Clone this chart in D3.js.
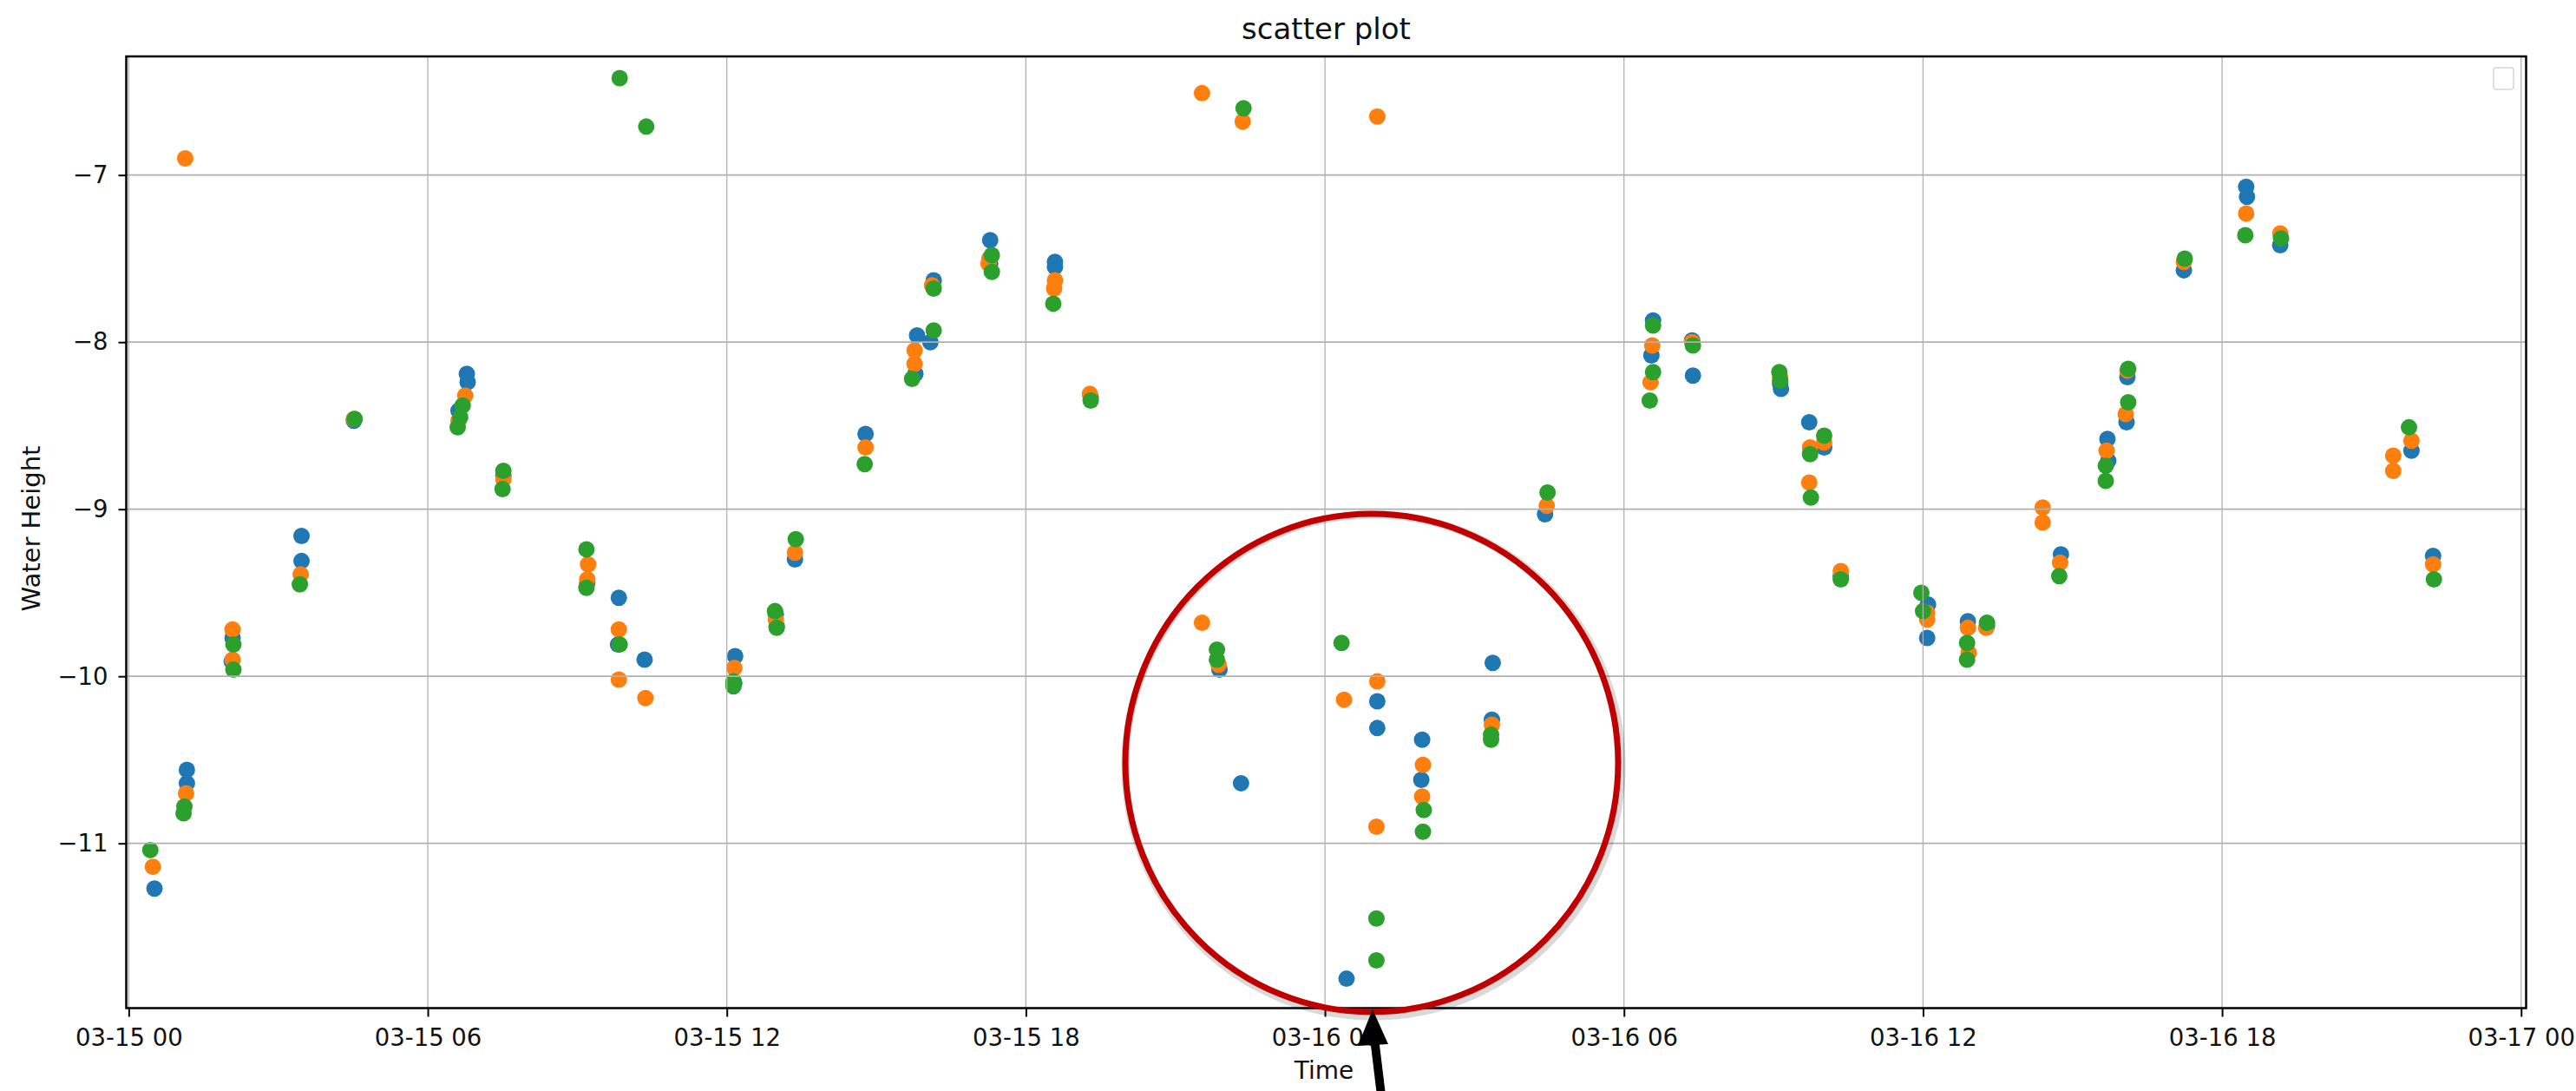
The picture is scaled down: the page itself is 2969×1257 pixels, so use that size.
<!DOCTYPE html>
<html>
<head>
<meta charset="utf-8">
<script src="https://cdn.jsdelivr.net/npm/d3@7"></script>
<style>
  body { margin: 0; background: #fff; }
  svg { display: block; font-family: "DejaVu Sans", sans-serif; }
</style>
</head>
<body>
<svg id="chart" width="2969" height="1257"></svg>
<script>
// three sensor series, [time, water height]
const seriesBlue = [
  ["2019-03-15 00:31", -11.27], ["2019-03-15 01:10", -10.56], ["2019-03-15 01:10", -10.64],
  ["2019-03-15 02:05", -9.77], ["2019-03-15 02:04", -9.91], ["2019-03-15 03:28", -9.16],
  ["2019-03-15 03:28", -9.31], ["2019-03-15 04:31", -8.47], ["2019-03-15 06:47", -8.19],
  ["2019-03-15 06:48", -8.24], ["2019-03-15 06:37", -8.41], ["2019-03-15 07:31", -8.80],
  ["2019-03-15 09:12", -9.44], ["2019-03-15 09:50", -9.53], ["2019-03-15 09:49", -9.81],
  ["2019-03-15 10:21", -9.90], ["2019-03-15 12:10", -9.88], ["2019-03-15 12:09", -10.04],
  ["2019-03-15 12:59", -9.63], ["2019-03-15 13:00", -9.70], ["2019-03-15 13:22", -9.30],
  ["2019-03-15 14:47", -8.55], ["2019-03-15 15:49", -7.96], ["2019-03-15 15:47", -8.19],
  ["2019-03-15 16:09", -7.63], ["2019-03-15 16:05", -8.00], ["2019-03-15 17:17", -7.39],
  ["2019-03-15 17:17", -7.53], ["2019-03-15 18:35", -7.52], ["2019-03-15 18:35", -7.55],
  ["2019-03-15 19:18", -8.33], ["2019-03-15 21:53", -9.96], ["2019-03-15 22:19", -10.64],
  ["2019-03-16 00:26", -11.81], ["2019-03-16 01:03", -10.15], ["2019-03-16 01:03", -10.31],
  ["2019-03-16 01:57", -10.38], ["2019-03-16 01:56", -10.62], ["2019-03-16 03:22", -9.92],
  ["2019-03-16 03:21", -10.26], ["2019-03-16 04:25", -9.03], ["2019-03-16 06:35", -7.87],
  ["2019-03-16 06:33", -8.08], ["2019-03-16 07:22", -7.99], ["2019-03-16 07:23", -8.20],
  ["2019-03-16 09:08", -8.25], ["2019-03-16 09:09", -8.28], ["2019-03-16 09:43", -8.48],
  ["2019-03-16 10:01", -8.63], ["2019-03-16 10:21", -9.40], ["2019-03-16 12:06", -9.57],
  ["2019-03-16 12:05", -9.77], ["2019-03-16 12:54", -9.67], ["2019-03-16 13:17", -9.70],
  ["2019-03-16 14:46", -9.27], ["2019-03-16 15:42", -8.58], ["2019-03-16 15:43", -8.71],
  ["2019-03-16 16:06", -8.21], ["2019-03-16 16:05", -8.48], ["2019-03-16 17:14", -7.57],
  ["2019-03-16 18:29", -7.07], ["2019-03-16 18:30", -7.13], ["2019-03-16 19:10", -7.42],
  ["2019-03-16 21:48", -8.65], ["2019-03-16 22:14", -9.28]
];
const seriesOrange = [
  ["2019-03-15 00:29", -11.14], ["2019-03-15 01:08", -6.90], ["2019-03-15 01:09", -10.70],
  ["2019-03-15 02:05", -9.72], ["2019-03-15 02:05", -9.90], ["2019-03-15 03:27", -9.39],
  ["2019-03-15 04:31", -8.46], ["2019-03-15 06:45", -8.32], ["2019-03-15 06:37", -8.47],
  ["2019-03-15 07:31", -8.82], ["2019-03-15 09:13", -9.33], ["2019-03-15 09:12", -9.42],
  ["2019-03-15 09:50", -9.72], ["2019-03-15 09:50", -10.02], ["2019-03-15 10:22", -10.13],
  ["2019-03-15 12:09", -9.95], ["2019-03-15 12:59", -9.66], ["2019-03-15 13:22", -9.26],
  ["2019-03-15 14:47", -8.63], ["2019-03-15 15:46", -8.05], ["2019-03-15 15:46", -8.13],
  ["2019-03-15 16:07", -7.66], ["2019-03-15 17:16", -7.50], ["2019-03-15 17:15", -7.53],
  ["2019-03-15 18:35", -7.63], ["2019-03-15 18:34", -7.68], ["2019-03-15 19:17", -8.31],
  ["2019-03-15 21:32", -6.51], ["2019-03-15 21:32", -9.68], ["2019-03-15 21:52", -9.93],
  ["2019-03-15 22:21", -6.68], ["2019-03-16 00:23", -10.14], ["2019-03-16 01:03", -6.65],
  ["2019-03-16 01:03", -10.03], ["2019-03-16 01:02", -10.90], ["2019-03-16 01:58", -10.53],
  ["2019-03-16 01:57", -10.72], ["2019-03-16 03:21", -10.29], ["2019-03-16 04:27", -8.98],
  ["2019-03-16 06:34", -8.02], ["2019-03-16 06:32", -8.24], ["2019-03-16 07:22", -8.00],
  ["2019-03-16 09:08", -8.21], ["2019-03-16 10:01", -8.60], ["2019-03-16 09:44", -8.63],
  ["2019-03-16 09:43", -8.84], ["2019-03-16 10:21", -9.37], ["2019-03-16 12:05", -9.62],
  ["2019-03-16 12:05", -9.66], ["2019-03-16 12:54", -9.71], ["2019-03-16 12:55", -9.86],
  ["2019-03-16 13:16", -9.71], ["2019-03-16 14:24", -8.99], ["2019-03-16 14:24", -9.08],
  ["2019-03-16 14:45", -9.32], ["2019-03-16 15:41", -8.65], ["2019-03-16 16:06", -8.17],
  ["2019-03-16 16:04", -8.43], ["2019-03-16 17:14", -7.52], ["2019-03-16 18:29", -7.23],
  ["2019-03-16 19:10", -7.35], ["2019-03-16 21:48", -8.59], ["2019-03-16 21:26", -8.68],
  ["2019-03-16 21:26", -8.77], ["2019-03-16 22:14", -9.33]
];
const seriesGreen = [
  ["2019-03-15 00:26", -11.04], ["2019-03-15 01:07", -10.78], ["2019-03-15 01:06", -10.82],
  ["2019-03-15 02:06", -9.81], ["2019-03-15 02:06", -9.96], ["2019-03-15 03:26", -9.45],
  ["2019-03-15 04:32", -8.46], ["2019-03-15 06:42", -8.38], ["2019-03-15 06:39", -8.45],
  ["2019-03-15 06:36", -8.51], ["2019-03-15 07:31", -8.77], ["2019-03-15 07:30", -8.88],
  ["2019-03-15 09:11", -9.24], ["2019-03-15 09:11", -9.47], ["2019-03-15 09:51", -6.42],
  ["2019-03-15 09:51", -9.81], ["2019-03-15 10:23", -6.71], ["2019-03-15 12:08", -10.03],
  ["2019-03-15 12:08", -10.06], ["2019-03-15 12:58", -9.61], ["2019-03-15 13:00", -9.71],
  ["2019-03-15 13:23", -9.18], ["2019-03-15 14:46", -8.73], ["2019-03-15 15:43", -8.22],
  ["2019-03-15 16:09", -7.68], ["2019-03-15 16:09", -7.93], ["2019-03-15 17:19", -7.48],
  ["2019-03-15 17:19", -7.58], ["2019-03-15 18:33", -7.77], ["2019-03-15 19:18", -8.35],
  ["2019-03-15 21:50", -9.84], ["2019-03-15 21:50", -9.90], ["2019-03-15 22:22", -6.60],
  ["2019-03-16 00:20", -9.80], ["2019-03-16 01:02", -11.45], ["2019-03-16 01:02", -11.70],
  ["2019-03-16 01:59", -10.80], ["2019-03-16 01:58", -10.93], ["2019-03-16 03:20", -10.35],
  ["2019-03-16 03:20", -10.38], ["2019-03-16 04:28", -8.90], ["2019-03-16 06:35", -7.90],
  ["2019-03-16 06:35", -8.18], ["2019-03-16 06:31", -8.35], ["2019-03-16 07:23", -8.02],
  ["2019-03-16 09:07", -8.18], ["2019-03-16 09:08", -8.23], ["2019-03-16 10:01", -8.56],
  ["2019-03-16 09:44", -8.67], ["2019-03-16 09:45", -8.93], ["2019-03-16 10:21", -9.42],
  ["2019-03-16 11:58", -9.50], ["2019-03-16 12:00", -9.61], ["2019-03-16 12:53", -9.80],
  ["2019-03-16 12:53", -9.90], ["2019-03-16 13:17", -9.68], ["2019-03-16 14:44", -9.40],
  ["2019-03-16 15:40", -8.74], ["2019-03-16 15:40", -8.83], ["2019-03-16 16:07", -8.16],
  ["2019-03-16 16:07", -8.36], ["2019-03-16 17:15", -7.50], ["2019-03-16 18:28", -7.36],
  ["2019-03-16 19:11", -7.38], ["2019-03-16 21:45", -8.51], ["2019-03-16 22:15", -9.42]
];
const seriesColors = ["#1f77b4", "#ff7f0e", "#2ca02c"];
const yTicks = [-11, -10, -9, -8, -7];
const xRange = ["2019-03-14 23:57", "2019-03-17 00:06"];
const yRange = [-11.986, -6.29];

const parseTime = d3.utcParse("%Y-%m-%d %H:%M");
const margin = { left: 145.5, top: 65, right: 2911.5, bottom: 1161.5 };

const svg = d3.select("#chart");

const x = d3.scaleUtc()
    .domain(xRange.map(parseTime))
    .range([margin.left, margin.right]);
const y = d3.scaleLinear()
    .domain(yRange)
    .range([margin.bottom, margin.top]);

const xTicks = x.ticks(d3.utcHour.every(6));

// points, blue first so green lands on top like matplotlib
[seriesBlue, seriesOrange, seriesGreen].forEach((s, i) => {
    svg.append("g")
        .selectAll("circle")
        .data(s)
        .enter().append("circle")
        .attr("cx", d => x(parseTime(d[0])))
        .attr("cy", d => y(d[1]))
        .attr("r", 9.5)
        .attr("fill", seriesColors[i]);
});

// grid is drawn over the markers (matplotlib default zorder)
const grid = svg.append("g").attr("stroke", "#b0b0b0");
grid.selectAll("line.v")
    .data(xTicks)
    .enter().append("line")
    .attr("x1", d => x(d)).attr("x2", d => x(d))
    .attr("y1", margin.top).attr("y2", margin.bottom)
    .attr("stroke-width", 1.3);
grid.selectAll("line.h")
    .data(yTicks)
    .enter().append("line")
    .attr("y1", d => y(d)).attr("y2", d => y(d))
    .attr("x1", margin.left).attr("x2", margin.right)
    .attr("stroke-width", 1.8);

// axes
const xAxis = svg.append("g")
    .attr("transform", `translate(0,${margin.bottom})`)
    .call(d3.axisBottom(x)
        .tickValues(xTicks)
        .tickFormat(d3.utcFormat("%m-%d %H"))
        .tickSize(10)
        .tickPadding(14));
const yAxis = svg.append("g")
    .attr("transform", `translate(${margin.left},0)`)
    .call(d3.axisLeft(y)
        .tickValues(yTicks)
        .tickFormat(d3.format("d"))
        .tickSize(9)
        .tickPadding(12));
[xAxis, yAxis].forEach(a => {
    a.select(".domain").remove();
    a.selectAll("line").attr("stroke", "#000").attr("stroke-width", 2);
    a.selectAll("text")
        .attr("fill", "#111")
        .style("font-family", "'DejaVu Sans', sans-serif")
        .style("font-size", "27.5px");
});

// frame
svg.append("rect")
    .attr("x", margin.left).attr("y", margin.top)
    .attr("width", margin.right - margin.left)
    .attr("height", margin.bottom - margin.top)
    .attr("fill", "none")
    .attr("stroke", "#000")
    .attr("stroke-width", 2.5);

// empty legend box
svg.append("rect")
    .attr("x", 2874).attr("y", 78)
    .attr("width", 23).attr("height", 25)
    .attr("rx", 3)
    .attr("fill", "#fff")
    .attr("stroke", "#d6d6d6")
    .attr("stroke-width", 1.5);

// titles
svg.append("text")
    .attr("x", (margin.left + margin.right) / 2)
    .attr("y", 45)
    .attr("text-anchor", "middle")
    .attr("fill", "#111")
    .style("font-size", "34px")
    .text("scatter plot");
svg.append("text")
    .attr("x", 1526)
    .attr("y", 1243)
    .attr("text-anchor", "middle")
    .attr("fill", "#111")
    .style("font-size", "28px")
    .text("Time");
svg.append("text")
    .attr("transform", "translate(46,609) rotate(-90)")
    .attr("text-anchor", "middle")
    .attr("fill", "#111")
    .style("font-size", "29px")
    .text("Water Height");

// annotation: red ring and black arrow
svg.append("ellipse")
    .attr("cx", 1583).attr("cy", 882)
    .attr("rx", 286).attr("ry", 289)
    .attr("fill", "none")
    .attr("stroke", "rgba(0,0,0,0.15)")
    .attr("stroke-width", 9);
svg.append("ellipse")
    .attr("cx", 1581).attr("cy", 879)
    .attr("rx", 284).attr("ry", 287)
    .attr("fill", "none")
    .attr("stroke", "#c00000")
    .attr("stroke-width", 7);
svg.append("line")
    .attr("x1", 1592).attr("y1", 1262)
    .attr("x2", 1584).attr("y2", 1196)
    .attr("stroke", "#000")
    .attr("stroke-width", 10);
svg.append("path")
    .attr("d", "M1582,1163 L1600,1203 L1565,1205 Z")
    .attr("fill", "#000");
</script>
</body>
</html>
